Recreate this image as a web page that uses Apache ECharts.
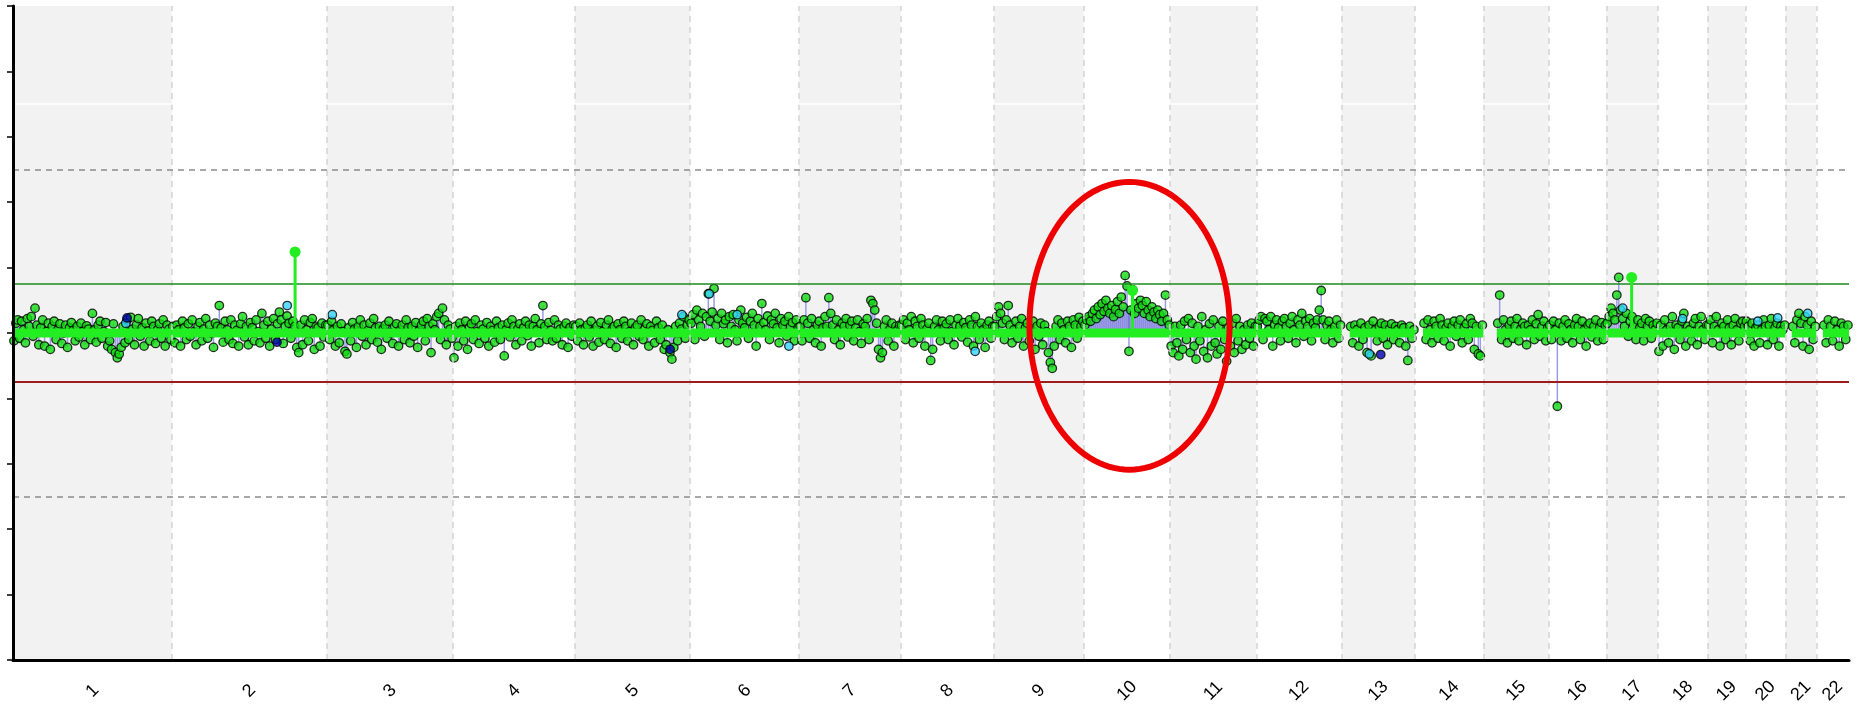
<!DOCTYPE html>
<html>
<head>
<meta charset="utf-8">
<title>CNV plot</title>
<script src="https://cdn.jsdelivr.net/npm/echarts@6.0.0/dist/echarts.min.js"></script>
<style>
html,body{margin:0;padding:0;background:#fff;}
#main{width:1858px;height:710px;}
</style>
</head>
<body>
<div id="main"></div>
<script>
// chromosome names and lengths (Mb)
var chrNames = ['1','2','3','4','5','6','7','8','9','10','11','12','13','14','15','16','17','18','19','20','21','22'];
var chrLengths = [249.25,243.20,198.02,191.15,180.92,171.12,159.14,146.36,141.21,135.53,135.01,133.85,115.17,107.35,102.53,90.35,81.20,78.08,59.13,63.03,48.13,51.30];

// probe values per chromosome, null = no probes
var chr1 = [-0.12,0.15,0.2,-0.08,0.18,0.05,-0.15,0.22,0.1,0.25,-0.05,0.38,0.12,-0.18,0.08,0.2,-0.2,0.02,0.15,-0.25,0.1,0.18,-0.1,0.05,0.14,-0.16,0.0,0.12,-0.22,0.08,0.16,0.04,-0.12,0.1,-0.06,0.15,0.02,-0.18,0.11,0.06,-0.1,0.3,0.05,-0.14,0.12,0.18,-0.08,0.02,0.16,-0.2,-0.12,-0.25,0.14,-0.3,-0.38,-0.32,-0.22,0.1,-0.15,0.2,-0.1,0.24,0.06,-0.18,0.12,0.22,-0.05,0.08,-0.2,0.15,0.03,-0.12,0.18,0.1,-0.16,0.05,0.14,-0.08,0.2,-0.2,0.12,0.06,-0.1];
var chr2 = [0.1,-0.15,0.12,0.05,-0.2,0.18,0.08,-0.1,0.14,-0.05,0.2,0.02,-0.18,0.1,0.16,-0.12,0.06,0.22,-0.08,0.12,0.0,-0.22,0.15,0.1,0.42,0.08,-0.14,0.18,0.05,-0.1,0.2,-0.16,0.12,0.04,-0.2,0.14,0.25,-0.06,0.1,-0.18,0.16,0.08,-0.12,0.2,0.02,-0.15,0.3,0.12,-0.08,0.18,-0.2,0.06,0.22,-0.1,0.14,0.32,0.2,-0.16,0.1,0.26,0.15,-0.08,0.18,0.1,-0.22,-0.3,0.12,-0.18,0.2,0.05,-0.12,0.16,0.22,-0.25,0.1,0.08,-0.2,0.15,-0.06,0.12];
var chr3 = [0.12,-0.1,0.18,0.05,-0.2,0.1,-0.15,0.14,0.02,-0.28,-0.32,0.08,-0.12,0.16,0.06,-0.22,0.1,0.2,-0.05,0.12,-0.18,0.04,0.15,-0.1,0.22,0.08,-0.14,0.1,-0.25,0.06,0.12,-0.08,0.18,0.0,-0.16,0.1,0.14,-0.2,0.05,0.12,-0.1,0.2,0.08,-0.15,0.1,-0.05,0.16,-0.22,0.04,0.12,0.18,-0.12,0.22,0.1,-0.3,0.14,0.05,0.25,0.3,-0.1,0.38,0.2,-0.18,0.12,0.06,-0.08];
var chr4 = [-0.38,0.1,-0.2,0.15,0.05,-0.12,0.18,-0.25,0.08,0.14,-0.1,0.2,0.02,-0.16,0.12,0.06,-0.08,0.16,-0.2,0.1,0.04,-0.14,0.18,0.08,-0.1,0.12,-0.35,0.05,0.15,-0.06,0.2,0.1,-0.18,0.06,0.14,-0.12,0.08,0.18,-0.04,0.12,-0.2,0.1,0.22,0.05,-0.15,0.14,0.42,0.1,-0.1,0.16,0.04,-0.12,0.2,-0.08,0.12,0.06,-0.18,0.1,0.15,-0.22,0.08,-0.05,0.12];
var chr5 = [0.1,-0.12,0.15,0.05,-0.18,0.08,0.12,-0.06,0.18,-0.2,0.04,0.1,-0.14,0.16,0.02,-0.1,0.12,0.2,-0.16,0.06,0.1,-0.22,0.14,0.05,-0.08,0.18,0.1,-0.12,0.02,0.15,-0.18,0.08,0.12,-0.05,0.2,-0.1,0.06,0.14,-0.2,0.1,0.04,-0.15,0.18,0.08,-0.1,0.12,-0.25,-0.18,0.05,-0.3,-0.4,-0.22,0.1,-0.12,0.15,0.06,0.25,-0.08,0.12,0.2];
var chr6 = [0.15,0.28,-0.1,0.35,0.2,0.1,0.3,-0.05,0.25,0.6,0.18,0.32,0.68,0.12,0.22,-0.1,0.3,0.14,0.2,-0.15,0.25,0.1,0.28,0.05,-0.12,0.2,0.35,0.15,0.08,0.24,-0.08,0.18,0.3,0.12,-0.2,0.22,0.1,0.45,0.16,0.05,0.26,-0.1,0.2,0.14,0.3,0.08,-0.15,0.22,0.12,0.18,-0.05,0.25,0.1,0.16,-0.12,0.2,0.08];
var chr7 = [0.1,-0.12,0.2,0.54,0.15,-0.08,0.22,0.05,-0.15,0.12,0.18,-0.2,0.08,0.25,0.1,0.54,0.3,0.12,-0.1,0.2,0.05,-0.18,0.15,0.1,0.22,-0.06,0.12,0.18,-0.12,0.08,0.2,0.02,-0.16,0.14,0.1,0.22,-0.1,0.5,0.45,0.35,0.15,-0.25,-0.38,-0.3,0.1,0.2,-0.12,0.06,0.15,-0.2,0.1,0.05,0.12];
var chr8 = [0.12,0.2,-0.1,0.15,0.05,0.25,-0.15,0.18,0.1,-0.08,0.22,0.12,-0.2,0.06,0.15,-0.42,-0.25,0.1,0.2,0.05,-0.12,0.18,0.08,0.14,-0.1,0.2,0.02,-0.18,0.12,0.22,0.1,-0.06,0.16,0.08,-0.14,0.2,0.12,-0.2,0.25,0.1,-0.1,0.15,0.05,-0.22,0.12,0.18,-0.08,0.1];
var chr9 = [0.1,0.25,0.4,0.3,0.15,-0.1,0.2,0.42,0.12,-0.15,0.05,0.18,-0.08,0.1,0.22,-0.2,0.08,0.15,-0.12,0.05,0.18,-0.25,0.1,-0.05,0.15,-0.18,0.12,0.02,-0.3,-0.45,-0.54,-0.2,0.1,0.2,-0.1,0.15,0.05,-0.15,0.18,0.1,-0.22,0.2,0.12,-0.08,0.24,0.1,0.18];
var chr10 = [0.12,0.2,0.25,0.18,0.3,0.35,0.22,0.4,0.28,0.45,0.33,0.5,0.38,0.3,0.42,0.25,0.36,0.48,0.3,0.55,0.4,0.88,0.72,-0.28,0.35,0.66,0.3,0.45,0.38,0.5,0.42,0.3,0.48,0.35,0.25,0.4,0.32,0.22,0.35,0.28,0.18,0.3,0.58,0.2,0.12];
var chr11 = [-0.2,-0.3,0.1,-0.15,-0.35,0.12,-0.25,0.18,-0.1,0.22,-0.3,0.15,-0.2,-0.4,0.1,-0.12,0.25,-0.28,0.05,-0.38,0.14,-0.2,0.2,-0.15,-0.32,0.1,-0.25,0.18,-0.1,-0.43,0.08,-0.2,0.15,-0.3,0.22,-0.12,0.1,-0.25,0.05,-0.18,0.12,-0.08,0.15,-0.2,0.1];
var chr12 = [0.1,0.2,0.25,-0.1,0.22,0.18,0.05,0.25,-0.2,0.12,0.2,0.08,-0.12,0.18,0.22,0.1,-0.08,0.15,0.25,0.05,-0.15,0.2,0.12,0.3,-0.05,0.18,0.1,0.22,-0.12,0.15,0.08,0.2,0.35,0.65,0.2,-0.1,0.12,0.18,0.05,-0.15,0.1,0.2,-0.08,0.12];
var chr13 = [null,null,null,null,0.1,-0.15,0.12,0.05,-0.2,0.15,-0.1,0.08,-0.3,0.12,-0.35,0.18,0.05,-0.12,0.1,0.15,-0.08,0.12,-0.18,0.06,0.14,-0.1,0.1,0.05,-0.15,0.12,0.08,-0.2,-0.42,0.1,-0.08,0.05];
var chr14 = [null,null,null,null,0.15,-0.1,0.2,0.05,-0.15,0.18,0.1,-0.08,0.22,0.12,-0.12,0.08,0.15,-0.2,0.1,0.18,-0.05,0.12,0.2,-0.15,0.08,0.14,-0.1,0.22,0.15,-0.25,0.1,-0.32,-0.35,0.12];
var chr15 = [null,null,null,null,null,null,null,0.15,0.58,-0.1,0.2,0.05,-0.15,0.12,0.18,-0.08,0.1,0.22,-0.12,0.06,0.15,0.1,-0.18,0.12,0.05,0.2,-0.1,0.14,0.28,-0.05,0.1,0.18,-0.12,0.08];
var chr16 = [0.12,-0.1,0.18,0.05,-1.12,0.15,-0.12,0.1,0.2,-0.08,0.14,0.05,-0.15,0.12,0.22,0.1,-0.1,0.18,0.05,-0.2,0.12,0.15,-0.06,0.1,0.2,-0.12,0.08,0.16,-0.1,0.12];
var chr17 = [0.15,0.25,0.38,0.3,0.2,0.58,0.85,0.35,0.22,0.1,0.3,-0.05,0.18,0.25,0.12,-0.1,0.2,0.08,0.15,-0.12,0.22,0.1,0.18,-0.08,0.12,0.05,0.15];
var chr18 = [-0.28,0.12,-0.2,0.2,0.05,-0.15,0.1,0.25,-0.25,0.12,0.08,-0.1,0.18,0.3,-0.2,0.1,0.05,-0.12,0.15,0.22,-0.18,0.1,0.25,0.05,-0.1,0.12];
var chr19 = [0.12,0.2,-0.15,0.1,0.25,0.05,-0.2,0.15,0.1,-0.1,0.2,0.08,-0.18,0.12,0.22,0.05,-0.12,0.15,0.18,0.1];
var chr20 = [0.18,0.1,-0.12,0.15,-0.2,0.08,0.12,-0.15,0.05,0.2,0.1,-0.18,0.12,0.22,-0.1,0.08,0.15,-0.2,0.1,0.05,0.12];
var chr21 = [null,null,null,0.1,-0.15,0.2,0.3,0.15,-0.2,0.25,0.12,-0.25,0.18,-0.1,0.1];
var chr22 = [null,null,null,0.12,-0.15,0.2,0.1,-0.12,0.18,0.05,-0.2,0.15,0.1,-0.1,0.12];
var chrValues = [chr1,chr2,chr3,chr4,chr5,chr6,chr7,chr8,chr9,chr10,chr11,chr12,chr13,chr14,chr15,chr16,chr17,chr18,chr19,chr20,chr21,chr22];

// [chromosome, position Mb, value]
var cyanPoints = [[1,177,0.15],[2,181,0.42],[3,8.6,0.28],[5,168,0.28],[6,30,0.6],[6,73.8,0.28],[6,155,-0.2],[8,117,-0.28],[13,43.5,-0.32],[17,25.8,0.38],[18,38.6,0.22],[20,19.4,0.18],[20,50.5,0.23],[21,34.6,0.3]];
var bluePoints = [[1,179,0.23],[2,165,-0.14],[5,149.5,-0.25],[13,61.5,-0.33]];
var spikes = [[2,193.4,1.24],[10,76.3,0.65],[17,39.8,0.85]];
// smoothed gain on chromosome 10
var chr10Area = [0,0.12,0.2,0.26,0.3,0.33,0.36,0.35,0.39,0.37,0.34,0.36,0.32,0.3,0.27,0.24,0.18,0];

var upperLimit = 0.75, lowerLimit = -0.75, outerLimit = 2.5, whiteLine = 3.5;
// [center Mb, center value, radius Mb, radius value]
var highlight = [1752, 0.11, 157, 2.2];

var chrStart = [], chrMid = [], total = 0;
for (var i = 0; i < chrLengths.length; i++) {
	chrStart.push(total);
	chrMid.push(total + chrLengths[i] / 2);
	total += chrLengths[i];
}
function gpos(c, p) { return chrStart[c - 1] + p; }

var points = [], segments = [];
for (var c = 0; c < chrValues.length; c++) {
	var vals = chrValues[c], step = chrLengths[c] / vals.length, first = -1;
	for (var k = 0; k < vals.length; k++) {
		if (vals[k] === null) continue;
		if (first < 0) first = k;
		points.push([chrStart[c] + (k + 0.5) * step, vals[k]]);
	}
	segments.push([chrStart[c] + first * step, 0, chrStart[c] + chrLengths[c]]);
}
var cyanData = cyanPoints.map(function (d) { return [gpos(d[0], d[1]), d[2]]; });
var blueData = bluePoints.map(function (d) { return [gpos(d[0], d[1]), d[2]]; });
var spikeData = spikes.map(function (d) { return [gpos(d[0], d[1]), d[2]]; });
var areaData = chr10Area.map(function (v, k) {
	return [chrStart[9] + k * chrLengths[9] / (chr10Area.length - 1), v];
});

var bands = [], bounds = [];
for (var c = 0; c < chrLengths.length; c++) {
	if (c % 2 === 0) bands.push([{ xAxis: chrStart[c] }, { xAxis: chrStart[c] + chrLengths[c] }]);
	if (c > 0) bounds.push({ xAxis: chrStart[c] });
}
var hLines = [
	{ yAxis: whiteLine, lineStyle: { color: '#ffffff', width: 1.5, type: 'solid' } },
	{ yAxis: outerLimit, lineStyle: { color: '#8c8c8c', width: 1.5, type: [6, 5] } },
	{ yAxis: -outerLimit, lineStyle: { color: '#8c8c8c', width: 1.5, type: [6, 5] } },
	{ yAxis: upperLimit, lineStyle: { color: '#1e8a1e', width: 1.5, type: 'solid' } },
	{ yAxis: lowerLimit, lineStyle: { color: '#9e1c1c', width: 2, type: 'solid' } }
];

var myChart = echarts.init(document.getElementById('main'));
var option = {
	animation: false,
	backgroundColor: '#ffffff',
	grid: { left: 13, right: 9, top: 6, bottom: 50, containLabel: false },
	xAxis: {
		type: 'value',
		min: 0,
		max: total,
		z: 10,
		axisLine: { show: true, onZero: false, lineStyle: { color: '#000', width: 3 } },
		axisTick: { show: false },
		splitLine: { show: false },
		axisLabel: {
			customValues: chrMid,
			rotate: 45,
			margin: 31,
			align: 'center',
			verticalAlign: 'middle',
			fontFamily: 'Liberation Sans, Arial, sans-serif',
			fontSize: 18,
			color: '#000',
			formatter: function (v) {
				for (var i = 0; i < chrMid.length; i++) {
					if (Math.abs(chrMid[i] - v) < 0.01) return chrNames[i];
				}
				return '';
			}
		}
	},
	yAxis: {
		type: 'value',
		min: -5,
		max: 5,
		interval: 1,
		z: 10,
		axisLine: { show: true, onZero: false, lineStyle: { color: '#000', width: 3 } },
		axisTick: { show: true, length: 6, lineStyle: { color: '#000', width: 1.5 } },
		axisLabel: { show: false },
		splitLine: { show: false }
	},
	series: [
		{
			// chromosome bands and reference lines
			type: 'line',
			data: [],
			z: 0,
			markArea: { silent: true, itemStyle: { color: '#f2f2f2' }, data: bands },
			markLine: {
				silent: true,
				symbol: 'none',
				label: { show: false },
				lineStyle: { color: '#d4d4d4', width: 1.5, type: [6, 5] },
				data: bounds.concat(hLines)
			}
		},
		{
			type: 'line',
			data: areaData,
			z: 1,
			showSymbol: false,
			smooth: true,
			lineStyle: { width: 0 },
			areaStyle: { color: '#7b7bd8', opacity: 1 }
		},
		{
			// stems from baseline to each probe
			type: 'custom',
			z: 2,
			data: points,
			renderItem: function (params, api) {
				var a = api.coord([api.value(0), 0]);
				var b = api.coord([api.value(0), api.value(1)]);
				return { type: 'line', shape: { x1: a[0], y1: a[1], x2: b[0], y2: b[1] },
					style: { stroke: '#9c9ce6', lineWidth: 1.5 } };
			}
		},
		{
			type: 'scatter',
			z: 3,
			data: points,
			symbolSize: 8.5,
			itemStyle: { color: '#12dc12', borderColor: '#000', borderWidth: 1.3 }
		},
		{
			type: 'scatter',
			z: 3,
			data: cyanData,
			symbolSize: 8.5,
			itemStyle: { color: '#33d4ff', borderColor: '#000', borderWidth: 1.3 }
		},
		{
			type: 'scatter',
			z: 3,
			data: blueData,
			symbolSize: 8.5,
			itemStyle: { color: '#0000b0', borderColor: '#000', borderWidth: 1.3 }
		},
		{
			// segmentation line
			type: 'custom',
			z: 4,
			data: segments,
			renderItem: function (params, api) {
				var a = api.coord([api.value(0), api.value(1)]);
				var b = api.coord([api.value(2), api.value(1)]);
				return { type: 'line', shape: { x1: a[0], y1: a[1], x2: b[0], y2: b[1] },
					style: { stroke: '#22ee22', lineWidth: 9 } };
			}
		},
		{
			type: 'custom',
			z: 5,
			data: spikeData,
			renderItem: function (params, api) {
				var a = api.coord([api.value(0), 0]);
				var b = api.coord([api.value(0), api.value(1)]);
				return { type: 'group', children: [
					{ type: 'line', shape: { x1: a[0], y1: a[1], x2: b[0], y2: b[1] },
						style: { stroke: '#22ee22', lineWidth: 3 } },
					{ type: 'circle', shape: { cx: b[0], cy: b[1], r: 5.5 },
						style: { fill: '#22ee22' } }
				] };
			}
		},
		{
			// red ellipse around chromosome 10
			type: 'custom',
			z: 6,
			data: [highlight],
			renderItem: function (params, api) {
				var c = api.coord([api.value(0), api.value(1)]);
				var s = api.size([api.value(2), api.value(3)]);
				var pts = [];
				for (var t = 0; t < 120; t++) {
					var ang = t / 120 * Math.PI * 2;
					pts.push([c[0] + s[0] * Math.cos(ang), c[1] + s[1] * Math.sin(ang)]);
				}
				return { type: 'polygon', shape: { points: pts },
					style: { fill: 'none', stroke: '#ee0000', lineWidth: 6 } };
			}
		}
	]
};
myChart.setOption(option);
</script>
</body>
</html>
